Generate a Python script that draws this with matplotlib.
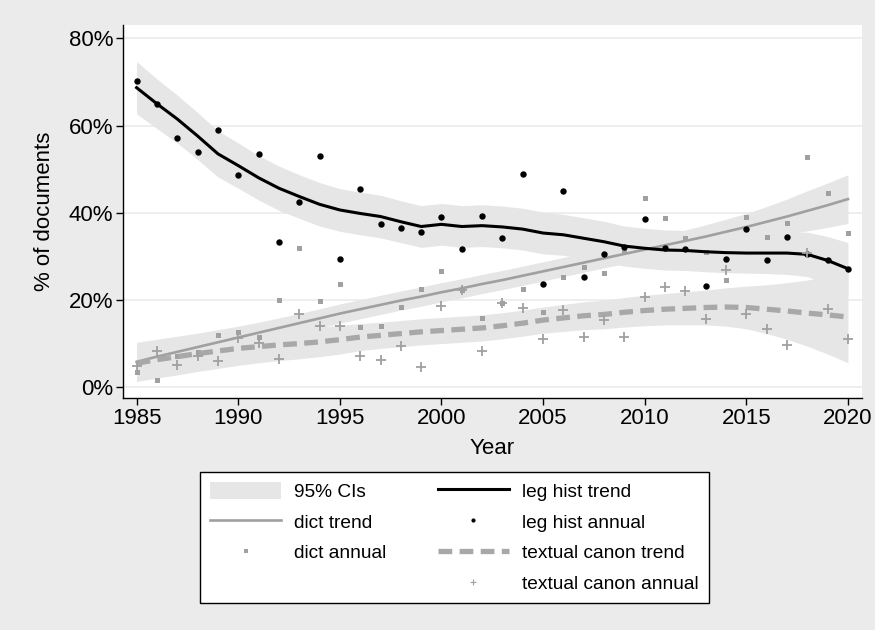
import matplotlib
matplotlib.use('Agg')
import matplotlib.pyplot as plt
import matplotlib.patches as mpatches
from matplotlib.lines import Line2D
from matplotlib.ticker import FuncFormatter

plt.rcParams['font.family'] = ['Liberation Sans', 'DejaVu Sans']

# ── Data (percent of documents) ───────────────────────────────────────────────
years = list(range(1985, 2021))

leg_annual = [70.3, 64.9, 57.2, 54.0, 58.9, 48.6, 53.5, 33.3, 42.5, 53.0,
              29.4, 45.5, 37.3, 36.5, 35.6, 38.9, 31.7, 39.3, 34.1, 48.9,
              23.5, 45.0, 25.1, 30.5, 32.1, 38.5, 31.9, 31.7, 23.1, 29.4,
              36.2, 29.0, 34.5, 30.6, 29.0, 27.1]
leg_trend = [68.7, 65.0, 61.5, 57.6, 53.5, 50.8, 48.0, 45.6, 43.7, 41.9,
             40.6, 39.8, 39.1, 37.9, 36.8, 37.3, 36.8, 37.0, 36.7, 36.2,
             35.3, 34.9, 34.1, 33.3, 32.3, 31.8, 31.4, 31.3, 31.0, 30.8,
             30.7, 30.7, 30.7, 30.4, 29.0, 27.1]
leg_ci = [6.0, 5.7, 5.5, 5.4, 5.3, 5.2, 5.1, 5.1, 5.0, 5.0,
          4.9, 4.9, 4.9, 4.8, 4.8, 4.8, 4.8, 4.8, 4.8, 4.8,
          4.8, 4.7, 4.7, 4.7, 4.6, 4.6, 4.6, 4.6, 4.6, 4.6,
          4.6, 4.7, 4.9, 5.1, 5.5, 6.0]

dict_annual = [3.4, 1.5, 7.0, 8.0, 11.8, 12.5, 11.5, 19.9, 31.8, 19.6,
               23.5, 13.7, 13.9, 18.3, 22.4, 26.5, 22.1, 15.7, 19.3, 22.4,
               17.1, 25.1, 27.4, 26.1, 31.5, 43.3, 38.7, 34.1, 30.9, 24.5,
               38.9, 34.3, 37.6, 52.7, 44.5, 35.3]
dict_trend = [5.7, 6.9, 8.0, 9.1, 10.2, 11.3, 12.4, 13.5, 14.6, 15.7,
              16.8, 17.8, 18.8, 19.8, 20.7, 21.7, 22.6, 23.6, 24.5, 25.5,
              26.5, 27.5, 28.5, 29.5, 30.5, 31.5, 32.5, 33.5, 34.5, 35.6,
              36.7, 37.9, 39.1, 40.4, 41.7, 43.1]
dict_ci = [4.5, 4.0, 3.6, 3.2, 2.9, 2.6, 2.4, 2.3, 2.2, 2.2,
           2.2, 2.2, 2.2, 2.2, 2.2, 2.2, 2.2, 2.2, 2.2, 2.2,
           2.2, 2.2, 2.2, 2.2, 2.2, 2.3, 2.4, 2.5, 2.7, 2.9,
           3.1, 3.5, 4.0, 4.6, 5.1, 5.6]

canon_annual = [4.8, 8.3, 5.0, 7.1, 6.0, 11.3, 10.0, 6.3, 16.7, 13.9,
                13.9, 7.1, 6.1, 9.4, 4.6, 18.6, 22.1, 8.1, 19.3, 18.0,
                10.9, 17.6, 11.5, 15.3, 11.5, 20.6, 22.8, 22.0, 15.6, 26.9,
                16.7, 13.3, 9.5, 30.7, 17.9, 11.0]
canon_trend = [5.4, 6.2, 6.9, 7.6, 8.2, 8.8, 9.2, 9.6, 9.9, 10.3,
               10.8, 11.4, 11.8, 12.2, 12.6, 12.9, 13.2, 13.5, 14.0, 14.6,
               15.3, 15.8, 16.3, 16.6, 17.1, 17.5, 17.8, 18.0, 18.2, 18.3,
               18.2, 17.8, 17.4, 16.9, 16.5, 16.0]
canon_ci = [4.2, 4.2, 4.2, 4.1, 4.0, 3.9, 3.7, 3.6, 3.5, 3.4,
            3.3, 3.1, 3.0, 3.0, 3.0, 3.0, 3.0, 3.0, 3.0, 3.0,
            3.0, 3.1, 3.2, 3.3, 3.4, 3.5, 3.6, 3.8, 4.0, 4.4,
            4.9, 5.6, 6.5, 7.6, 9.0, 10.5]

x_ticks = [1985, 1990, 1995, 2000, 2005, 2010, 2015, 2020]
y_ticks = [0, 20, 40, 60, 80]

# ── Style ─────────────────────────────────────────────────────────────────────
BG = '#EBEBEB'
BAND = '#E6E6E6'
GRAY = '#A0A0A0'
DASH = '#A8A8A8'
FS = 16      # axis text
LFS = 13.8   # legend text

fig = plt.figure(figsize=(8.75, 6.3), dpi=100)
fig.patch.set_facecolor(BG)
ax = fig.add_axes([123 / 875, 1 - 398 / 630, (862 - 123) / 875, (398 - 25) / 630])
ax.set_facecolor('white')

def band(trend, ci):
    lo = [t - c for t, c in zip(trend, ci)]
    hi = [t + c for t, c in zip(trend, ci)]
    ax.fill_between(years, lo, hi, color=BAND, lw=0, zorder=1)

band(dict_trend, dict_ci)
band(leg_trend, leg_ci)
band(canon_trend, canon_ci)

ax.plot(years, dict_trend, color=GRAY, lw=1.9, zorder=3)
ax.plot(years, dict_annual, ls='none', marker='s', ms=3.6, color=GRAY, mew=0, zorder=4)
ax.plot(years, leg_trend, color='black', lw=2.2, zorder=5)
ax.plot(years, leg_annual, ls='none', marker='o', ms=4.6, color='black', mew=0, zorder=6)
ax.plot(years, canon_trend, color=DASH, lw=3.8, dashes=(2.6, 1.4), zorder=7)
ax.plot(years, canon_annual, ls='none', marker='+', ms=7, color=GRAY, mew=1.3, zorder=8)

ax.set_xlim(1984.33, 2020.69)
ax.set_ylim(-2.6, 83.1)
ax.set_xticks(x_ticks)
ax.set_yticks(y_ticks)
ax.yaxis.set_major_formatter(FuncFormatter(lambda v, p: f'{v:.0f}%'))
ax.grid(axis='y', color='#EBEBEB', lw=1.2, zorder=0)
ax.set_axisbelow(True)
for s in ['top', 'right']:
    ax.spines[s].set_visible(False)
for s in ['left', 'bottom']:
    ax.spines[s].set_color('black')
    ax.spines[s].set_linewidth(1.0)
ax.tick_params(axis='both', direction='out', length=5, width=1, labelsize=FS, pad=2)
ax.set_xlabel('Year', fontsize=FS, labelpad=7)
ax.set_ylabel('% of documents', fontsize=FS, labelpad=10)

# ── Legend ────────────────────────────────────────────────────────────────────
handles = [
    mpatches.Patch(facecolor=BAND, edgecolor='none', label='95% CIs'),
    Line2D([], [], color=GRAY, lw=1.9, label='dict trend'),
    Line2D([], [], ls='none', marker='s', ms=2.5, color=GRAY, mew=0, label='dict annual'),
    Line2D([], [], ls='none', label=' '),
    Line2D([], [], color='black', lw=2.2, label='leg hist trend'),
    Line2D([], [], ls='none', marker='o', ms=3, color='black', mew=0, label='leg hist annual'),
    Line2D([], [], color=DASH, lw=3.8, dashes=(2.6, 1.4), label='textual canon trend'),
    Line2D([], [], ls='none', marker='+', ms=5, color=GRAY, mew=0.8, label='textual canon annual'),
]
leg = fig.legend(handles=handles, ncol=2, loc='upper left',
                 bbox_to_anchor=(200 / 875, 1 - 472 / 630), bbox_transform=fig.transFigure,
                 fontsize=LFS, frameon=True, fancybox=False, edgecolor='black',
                 facecolor='white', framealpha=1, handlelength=3.75, handleheight=1.0,
                 handletextpad=0.68, columnspacing=2.65, labelspacing=0.61,
                 borderpad=0.5, borderaxespad=0)
leg.get_frame().set_linewidth(1.0)

fig.savefig('out.png', dpi=100, facecolor=fig.get_facecolor())
